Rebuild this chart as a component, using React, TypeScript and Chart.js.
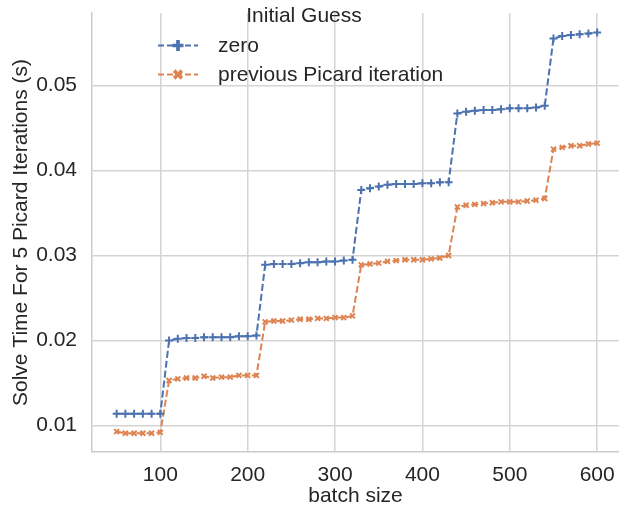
import React, { useEffect, useRef } from "react";
import { Chart, registerables } from "chart.js";

Chart.register(...registerables);

const batchSizes = [
  50, 60, 70, 80, 90, 100,
  110, 120, 130, 140, 150, 160, 170, 180, 190, 200, 210,
  220, 230, 240, 250, 260, 270, 280, 290, 300, 310, 320,
  330, 340, 350, 360, 370, 380, 390, 400, 410, 420, 430,
  440, 450, 460, 470, 480, 490, 500, 510, 520, 530, 540,
  550, 560, 570, 580, 590, 600,
];

const zeroGuess = [
  0.0114, 0.0114, 0.0114, 0.0114, 0.0114, 0.0114,
  0.0200, 0.0202, 0.0203, 0.0203, 0.0204, 0.0204, 0.0204, 0.0204, 0.0205, 0.0205, 0.0206,
  0.0289, 0.0290, 0.0290, 0.0290, 0.0291, 0.0292, 0.0292, 0.0293, 0.0293, 0.0294, 0.0295,
  0.0377, 0.0379, 0.0381, 0.0383, 0.0384, 0.0384, 0.0384, 0.0385, 0.0385, 0.0386, 0.0386,
  0.0467, 0.0469, 0.0470, 0.0471, 0.0471, 0.0472, 0.0473, 0.0473, 0.0473, 0.0474, 0.0476,
  0.0555, 0.0558, 0.0559, 0.0560, 0.0561, 0.0562,
];

const previousGuess = [
  0.0093, 0.0091, 0.0091, 0.0091, 0.0091, 0.0092,
  0.0153, 0.0155, 0.0156, 0.0156, 0.0158, 0.0156, 0.0157, 0.0157, 0.0159, 0.0159, 0.0159,
  0.0222, 0.0223, 0.0223, 0.0224, 0.0225, 0.0225, 0.0226, 0.0226, 0.0227, 0.0227, 0.0229,
  0.0289, 0.0290, 0.0291, 0.0293, 0.0294, 0.0295, 0.0295, 0.0295, 0.0296, 0.0297, 0.0300,
  0.0357, 0.0359, 0.0360, 0.0361, 0.0362, 0.0363, 0.0363, 0.0363, 0.0364, 0.0365, 0.0367,
  0.0425, 0.0427, 0.0429, 0.0429, 0.0431, 0.0432,
];

const xTickValues = [100, 200, 300, 400, 500, 600];
const yTickValues = [0.01, 0.02, 0.03, 0.04, 0.05];

const seriesLabels = ["zero", "previous Picard iteration"];
const legendTitle = "Initial Guess";
const xTitle = "batch size";
const yTitle = "Solve Time For 5 Picard Iterations (s)";

const BLUE = "#4c72b0";
const ORANGE = "#dd8452";
const FONT = "'Liberation Sans', Arial, Helvetica, sans-serif";
const TEXT = "#262626";

function drawFilledPlus(ctx: CanvasRenderingContext2D, x: number, y: number, s: number) {
  const a = s / 2;
  const b = s / 6;
  ctx.beginPath();
  ctx.moveTo(x - b, y - a);
  ctx.lineTo(x + b, y - a);
  ctx.lineTo(x + b, y - b);
  ctx.lineTo(x + a, y - b);
  ctx.lineTo(x + a, y + b);
  ctx.lineTo(x + b, y + b);
  ctx.lineTo(x + b, y + a);
  ctx.lineTo(x - b, y + a);
  ctx.lineTo(x - b, y + b);
  ctx.lineTo(x - a, y + b);
  ctx.lineTo(x - a, y - b);
  ctx.lineTo(x - b, y - b);
  ctx.closePath();
  ctx.fill();
}

function drawFilledX(ctx: CanvasRenderingContext2D, x: number, y: number, s: number) {
  ctx.save();
  ctx.translate(x, y);
  ctx.rotate(Math.PI / 4);
  drawFilledPlus(ctx, 0, 0, s);
  ctx.restore();
}

const legendPlugin = {
  id: "insideLegend",
  afterDraw(chart: any) {
    const ctx = chart.ctx as CanvasRenderingContext2D;
    const area = chart.chartArea;
    const left = area.left;
    ctx.save();
    ctx.fillStyle = TEXT;
    ctx.font = `21px ${FONT}`;
    ctx.textAlign = "center";
    ctx.textBaseline = "middle";
    ctx.fillText(legendTitle, left + 212, 16);
    const rows = [
      { label: seriesLabels[0], color: BLUE, y: 45.5, marker: "plus" },
      { label: seriesLabels[1], color: ORANGE, y: 74.5, marker: "x" },
    ];
    rows.forEach((r) => {
      ctx.strokeStyle = r.color;
      ctx.fillStyle = r.color;
      ctx.lineWidth = 2;
      ctx.setLineDash([6, 3]);
      ctx.beginPath();
      ctx.moveTo(left + 66, r.y);
      ctx.lineTo(left + 106, r.y);
      ctx.stroke();
      ctx.setLineDash([]);
      if (r.marker === "plus") drawFilledPlus(ctx, left + 86, r.y, 11);
      else drawFilledX(ctx, left + 86, r.y, 11);
      ctx.fillStyle = TEXT;
      ctx.textAlign = "left";
      ctx.fillText(r.label, left + 126, r.y + 1);
    });
    ctx.restore();
  },
};

export default function App() {
  const ref = useRef<HTMLCanvasElement | null>(null);

  useEffect(() => {
    if (!ref.current) return;
    const chart = new Chart(ref.current, {
      type: "line",
      data: {
        datasets: [
          {
            label: seriesLabels[0],
            data: batchSizes.map((x, i) => ({ x, y: zeroGuess[i] })),
            borderColor: BLUE,
            backgroundColor: BLUE,
            borderWidth: 2,
            borderDash: [7, 3],
            pointStyle: "cross",
            pointRadius: 4,
            pointBorderWidth: 2,
            pointBorderColor: BLUE,
            tension: 0,
          },
          {
            label: seriesLabels[1],
            data: batchSizes.map((x, i) => ({ x, y: previousGuess[i] })),
            borderColor: ORANGE,
            backgroundColor: ORANGE,
            borderWidth: 2,
            borderDash: [7, 3],
            pointStyle: "crossRot",
            pointRadius: 3.5,
            pointBorderWidth: 2,
            pointBorderColor: ORANGE,
            tension: 0,
          },
        ],
      },
      options: {
        animation: false,
        responsive: false,
        maintainAspectRatio: false,
        layout: { padding: { top: 13, right: 0, left: 0, bottom: 0 } },
        plugins: {
          legend: { display: false },
          tooltip: { enabled: false },
        },
        scales: {
          x: {
            type: "linear",
            min: 21.8,
            max: 625,
            afterBuildTicks: (s: any) => {
              s.ticks = xTickValues.map((v) => ({ value: v }));
            },
            afterFit: (s: any) => {
              s.height = 63;
              s.paddingLeft = 0;
              s.paddingRight = 0;
            },
            ticks: {
              maxRotation: 0,
              minRotation: 0,
              autoSkip: false,
              padding: 0,
              color: TEXT,
              font: { family: FONT, size: 21 },
              callback: (v: any) => String(v),
            },
            grid: {
              color: "#d4d4d4",
              lineWidth: 1.5,
              drawTicks: true,
              tickLength: 11,
              tickColor: "rgba(0,0,0,0)",
            },
            border: { color: "#cccccc", width: 1.5 },
            title: {
              display: true,
              text: xTitle,
              color: TEXT,
              font: { family: FONT, size: 21 },
              padding: { top: 0, bottom: 6 },
            },
          },
          y: {
            type: "linear",
            min: 0.0069,
            max: 0.0585,
            afterBuildTicks: (s: any) => {
              s.ticks = yTickValues.map((v) => ({ value: v }));
            },
            afterFit: (s: any) => {
              s.width = 92;
              s.paddingTop = 0;
              s.paddingBottom = 0;
            },
            ticks: {
              autoSkip: false,
              padding: 15,
              color: TEXT,
              font: { family: FONT, size: 21 },
              callback: (v: any) => Number(v).toFixed(2),
            },
            grid: { color: "#d4d4d4", lineWidth: 1.5, drawTicks: false },
            border: { color: "#cccccc", width: 1.5 },
            title: {
              display: true,
              text: yTitle,
              color: TEXT,
              font: { family: FONT, size: 21 },
              padding: { top: 9, bottom: 0 },
            },
          },
        },
      },
      plugins: [legendPlugin],
    } as any);
    return () => chart.destroy();
  }, []);

  return (
    <div
      style={{
        position: "absolute",
        left: 0,
        top: 0,
        width: 619,
        height: 515,
        overflow: "hidden",
        background: "#ffffff",
      }}
    >
      <canvas ref={ref} width={625} height={515} style={{ display: "block" }} />
    </div>
  );
}
